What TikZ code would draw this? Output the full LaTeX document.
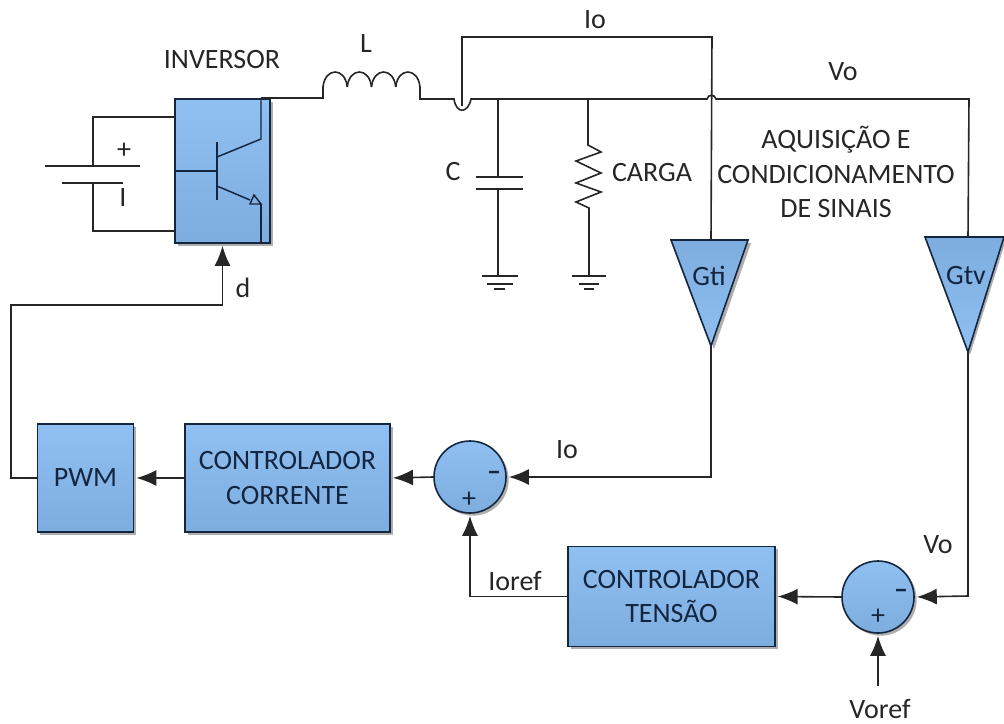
\documentclass[tikz,border=0pt]{standalone}
\usepackage{fontspec}
\setmainfont{Carlito}
\usetikzlibrary{arrows.meta,shadows}
\definecolor{blocoTop}{HTML}{90C0F2}
\definecolor{blocoBot}{HTML}{7DADDF}
\definecolor{blocoEdge}{HTML}{14263F}
\definecolor{fio}{HTML}{262626}
\tikzset{
 bloco/.style={draw=blocoEdge,line width=1.2pt,top color=blocoTop,bottom color=blocoBot,text=blocoEdge,align=center,inner sep=0pt,
   drop shadow={shadow xshift=2pt,shadow yshift=-2pt,opacity=.45,fill=black!70}},
 soma/.style={bloco,circle,minimum size=54pt},
 wire/.style={draw=fio,line width=1.2pt},
 sig/.style={wire,-{Latex[length=15pt,width=12pt]},shorten >=1.5pt},
 rotulo/.style={text=fio,align=center,inner sep=0pt},
 sinal/.style={text=blocoEdge,inner sep=0pt},
}
\begin{document}
\begin{tikzpicture}[x=0.75pt,y=-0.75pt,font=\fontsize{21}{26}\selectfont]
\useasboundingbox (0,0) rectangle (1004,724);
% blocos
\node[bloco,minimum width=71pt,minimum height=108pt] (inv) at (222.5,171) {};
\node[bloco,minimum width=72pt,minimum height=81pt] (pwm) at (85.5,478) {PWM};
\node[bloco,minimum width=154pt,minimum height=81pt] (ctrli) at (287.5,478) {CONTROLADOR\\CORRENTE};
\node[soma] (somai) at (470,477) {};
\node[bloco,minimum width=155pt,minimum height=75pt] (ctrlv) at (671.5,596.5) {CONTROLADOR\\TENSÃO};
\node[soma] (somav) at (878,597) {};
\node[sinal] (menosi) at (494,476) {\textbf{–}};
\node[sinal] (maisi) at (469,500) {+};
\node[sinal] (menosv) at (901,594) {\textbf{–}};
\node[sinal] (maisv) at (878,617) {+};
% ganhos
\coordinate (gtitop) at (711,240); \coordinate (gtiend) at (711,346);
\coordinate (gtvtop) at (968,237); \coordinate (gtvend) at (968,352);
\fill[black!70,opacity=.45] (674,243)--(751,243)--(714,349)--cycle;
\fill[black!70,opacity=.45] (928,240)--(1006,240)--(970,355)--cycle;
\draw[draw=blocoEdge,line width=1.2pt,top color=blocoBot,bottom color=blocoTop] (671,240)--(748,240)--(gtiend)--cycle;
\draw[draw=blocoEdge,line width=1.2pt,top color=blocoBot,bottom color=blocoTop] (925,237)--(1004,237)--(gtvend)--cycle;
\node[sinal] (gti) at (709,276) {Gti};
\node[sinal] (gtv) at (966,276) {Gtv};
% bateria
\coordinate (batA) at (93,166); \coordinate (batB) at (93,183);
\draw[wire] (45,166)--(140,166); \draw[wire] (62,183)--(123,183);
\draw[wire] (batA)--(93,117)--(175,117);
\draw[wire] (batB)--(93,231)--(175,231);
\node[rotulo] (batmais) at (124,151) {+}; \node[rotulo] (batmenos) at (123,198) {I};
% transistor
\draw[draw=blocoEdge,line width=1.1pt] (217,142)--(217,200);
\draw[draw=blocoEdge,line width=1.1pt] (175,171)--(217,171);
\draw[draw=blocoEdge,line width=1.1pt] (217,157)--(261,139)--(261,98);
\draw[draw=blocoEdge,line width=1.1pt] (217,186)--(250,200);
\draw[draw=blocoEdge,line width=1.1pt] (250,204)--(261,204)--(254,195)--cycle;
\draw[draw=blocoEdge,line width=1.1pt] (261,204)--(261,243);
% linha principal
\coordinate (indA) at (323,98); \coordinate (indB) at (420,99);
\draw[wire] (261,98)--(indA)--(323,87);
\foreach \k in {323,347.25,371.5,395.75}
  \draw[wire] (\k,87) .. controls (\k+2,67) and (\k+22.25,67) .. (\k+24.25,87);
\draw[wire] (420,87)--(indB)--(454,99) .. controls (456,114) and (468,114) .. (471,99)--(707,99) .. controls (708,94) and (715,94) .. (716,99)--(969,99)--(gtvtop);
\draw[wire] (462,106)--(462,37)--(712,37)--(gtitop);
% capacitor
\draw[wire] (498,99)--(498,177); \draw[wire] (476,177)--(523,177); \draw[wire] (476,189)--(523,189);
\draw[wire] (498,189)--(498,276);
\draw[wire] (482,276)--(518,276); \draw[wire] (487,284)--(513,284); \draw[wire] (494,289)--(505,289);
% carga
\draw[wire] (588,99)--(588,145)--(601,152)--(576,161)--(601,173)--(576,183)--(601,192)--(576,202)--(589,208)--(589,276);
\draw[wire] (572,276)--(606,276); \draw[wire] (579,284)--(599,284); \draw[wire] (584,289)--(594,289);
% realimentacao
\coordinate (dbend) at (11,305); \coordinate (vref) at (878,686);
\draw[sig] (gtiend)--(711,477)--(somai.east);
\draw[sig] (somai.west)--(ctrli.east);
\draw[sig] (ctrli.west)--(pwm.east);
\draw[sig] (pwm.west)--(pwm.west -| dbend)--(dbend)-|(inv.south);
\draw[sig] (gtvend)--(968,596)--(somav.east);
\draw[sig] (somav.west)--(ctrlv.east);
\draw[sig] (ctrlv.west)-|(somai.south);
\draw[sig] (vref)--(somav.south);
% textos
\node[rotulo] (tinv) at (222,60) {INVERSOR};
\node[rotulo] (tl) at (366,44) {L};
\node[rotulo] (tc) at (453,172) {C};
\node[rotulo] (tio) at (595,20) {Io};
\node[rotulo] (tvo) at (843,72) {Vo};
\node[rotulo] (tcarga) at (652,173) {CARGA};
\node[rotulo] (taq) at (836,172) {AQUISIÇÃO E\\CONDICIONAMENTO\\DE SINAIS};
\node[rotulo] (td) at (243,288) {d};
\node[rotulo] (tio2) at (567,450) {Io};
\node[rotulo] (tioref) at (515,581) {Ioref};
\node[rotulo] (tvo2) at (938,545) {Vo};
\node[rotulo] (tvoref) at (880,709) {Voref};
\end{tikzpicture}
\end{document}
